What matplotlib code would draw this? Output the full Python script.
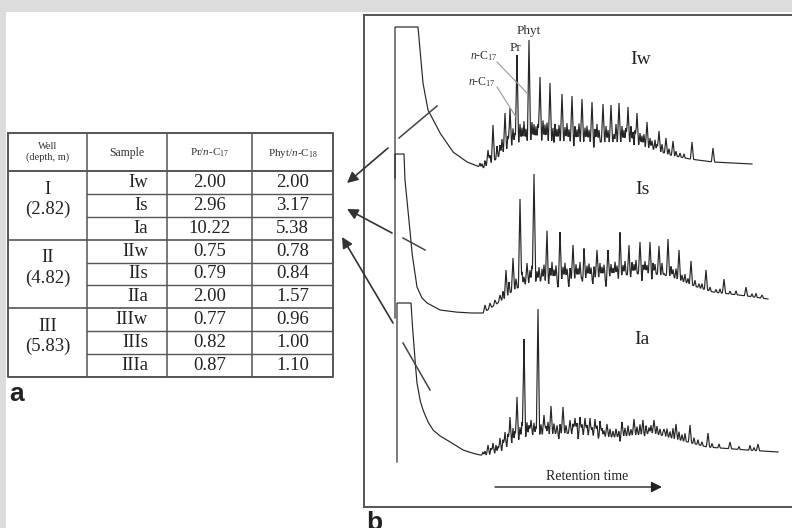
import numpy as np
import matplotlib
matplotlib.use("Agg")
import matplotlib.pyplot as plt
from matplotlib.patches import Rectangle

plt.rcParams['font.family'] = ['Liberation Serif', 'DejaVu Serif']
plt.rcParams['mathtext.fontset'] = 'custom'
plt.rcParams['mathtext.rm'] = 'Liberation Serif'
plt.rcParams['mathtext.it'] = 'Liberation Serif:italic'

# ---- table data (panel a) ----
wells = ['I\n(2.82)', 'II\n(4.82)', 'III\n(5.83)']
samples = ['Iw', 'Is', 'Ia', 'IIw', 'IIs', 'IIa', 'IIIw', 'IIIs', 'IIIa']
pr_c17 = ['2.00', '2.96', '10.22', '0.75', '0.79', '2.00', '0.77', '0.82', '0.87']
phyt_c18 = ['2.00', '3.17', '5.38', '0.78', '0.84', '1.57', '0.96', '1.00', '1.10']

# ---- chromatograms (panel b), retention time / detector response in arb. units ----
# solvent front: left edge, flat-top end, top, foot of the left edge
iw_front = (31, 54, 480, 329)
is_front = (31, 40, 353, 189)
ia_front = (33, 47, 204, 45)

# tail of the solvent peak + baseline (time, response)
iw_base = [(54, 480), (56, 457), (59, 424), (64, 397), (76, 374), (89, 355), (103, 345),
           (116, 340), (119, 339), (131, 347), (141, 357), (151, 364), (166, 367), (196, 366),
           (236, 365), (266, 365), (286, 359), (306, 352), (326, 348), (349, 345), (388, 343)]
is_base = [(40, 353), (41, 327), (45, 287), (48, 254), (53, 220), (58, 209), (63, 204),
           (76, 197), (91, 195), (106, 194), (119, 194), (131, 202), (141, 209), (149, 217),
           (166, 225), (196, 228), (236, 230), (283, 234), (306, 231), (333, 220), (349, 215),
           (383, 211), (404, 208)]
ia_base = [(47, 204), (48, 187), (51, 147), (53, 124), (56, 107), (59, 97), (64, 85), (69, 77),
           (76, 71), (83, 67), (91, 62), (99, 57), (108, 54), (116, 52), (123, 52), (136, 55),
           (149, 65), (166, 72), (199, 74), (249, 70), (289, 74), (316, 67), (343, 60),
           (383, 57), (414, 55)]

# resolved peaks: (time, response at apex)
iw_peaks = [(124, 357), (129, 382), (141, 394), (146, 399), (153, 452), (165, 467), (176, 430),
            (186, 424), (198, 413), (208, 411), (218, 408), (228, 405), (239, 403), (247, 402),
            (255, 404), (264, 400), (273, 394), (283, 385), (295, 376), (302, 369), (309, 366),
            (328, 365), (349, 359)]
is_peaks = [(121, 202), (126, 204), (131, 207), (136, 212), (142, 237), (149, 249), (156, 308),
            (163, 244), (170, 341), (183, 278), (196, 275), (209, 262), (220, 260), (233, 257),
            (244, 257), (256, 276), (265, 263), (276, 265), (286, 265), (295, 261), (304, 268),
            (315, 257), (327, 246), (342, 237), (360, 228), (382, 220), (398, 212)]
ia_peaks = [(124, 62), (129, 64), (136, 69), (141, 75), (146, 90), (153, 110), (160, 168),
            (167, 87), (174, 204), (180, 92), (187, 101), (199, 100), (206, 87), (211, 89),
            (216, 90), (221, 89), (226, 89), (231, 88), (236, 87), (243, 83), (258, 85),
            (270, 88), (279, 88), (290, 87), (300, 84), (312, 83), (326, 82), (344, 74),
            (366, 65), (394, 63)]

# unresolved small peaks: (time, height above baseline)
iw_minor = [(116, 4), (118, 4), (121, 6), (126, 8), (133, 12), (136, 10), (138, 14), (144, 12),
            (149, 16), (151, 10), (156, 18), (158, 14), (160, 20), (162, 12), (168, 18), (170, 22),
            (172, 14), (174, 16), (179, 20), (181, 16), (183, 18), (189, 14), (191, 18), (193, 12),
            (195, 16), (201, 14), (203, 18), (205, 12), (211, 16), (213, 12), (215, 18), (221, 14),
            (223, 16), (225, 12), (231, 14), (233, 18), (235, 12), (242, 16), (244, 12), (250, 14),
            (252, 18), (258, 16), (260, 12), (262, 14), (267, 16), (269, 12), (271, 14), (276, 12),
            (278, 10), (280, 12), (286, 10), (288, 8), (291, 10), (293, 6), (298, 8), (305, 6),
            (312, 5), (316, 4), (320, 4), (170, -6), (190, -7), (210, -6), (230, -7), (250, -6),
            (270, -6)]
is_minor = [(139, 8), (145, 12), (152, 10), (158, 14), (160, 8), (166, 12), (168, 16), (173, 10),
            (175, 14), (178, 12), (180, 16), (186, 12), (188, 18), (190, 10), (192, 14), (199, 12),
            (201, 16), (203, 10), (206, 12), (212, 14), (214, 10), (216, 16), (223, 12), (225, 14),
            (227, 10), (230, 12), (236, 14), (238, 10), (240, 12), (247, 12), (249, 8), (251, 14),
            (253, 10), (259, 10), (261, 14), (268, 12), (270, 10), (272, 14), (279, 10), (281, 12),
            (283, 8), (289, 12), (291, 10), (298, 12), (300, 8), (307, 10), (309, 8), (312, 10),
            (318, 6), (321, 8), (324, 5), (331, 6), (335, 4), (338, 5), (346, 4), (352, 3),
            (356, 4), (366, 3), (372, 4), (388, 3), (392, 4), (170, -8), (184, -10), (194, -8),
            (205, -10), (219, -9), (229, -8), (242, -10), (255, -8), (266, -7), (278, -9),
            (288, -7), (300, -6)]
ia_minor = [(119, 3), (121, 4), (127, 6), (132, 8), (134, 6), (139, 10), (144, 12), (149, 14),
            (151, 10), (156, 12), (158, 16), (163, 14), (165, 10), (170, 12), (172, 8), (177, 10),
            (182, 8), (184, 12), (190, 10), (193, 8), (196, 10), (202, 8), (209, 10), (213, 12),
            (218, 10), (223, 10), (228, 8), (233, 10), (238, 8), (240, 6), (246, 8), (249, 6),
            (252, 8), (255, 6), (261, 8), (264, 10), (267, 6), (273, 8), (276, 10), (282, 8),
            (285, 6), (287, 8), (293, 8), (296, 6), (303, 8), (306, 6), (309, 10), (315, 8),
            (318, 6), (321, 8), (330, 6), (334, 5), (338, 4), (348, 4), (355, 4), (375, 3),
            (386, 5), (390, 3), (174, -6), (195, -7), (214, -6), (235, -6), (256, -6), (280, -5),
            (300, -6)]

# axis-break marks across the solvent tails
iw_break = [(35, 369), (73, 401)]
is_break = [(39, 269), (61, 257)]
ia_break = [(39, 164), (66, 117)]

TRACE = '#262626'
GRID = '#555555'


def trace(front, base, peaks, minor):
    left, flat_end, top, foot = front
    bt, br = np.array(base, dtype=float).T
    t = np.arange(bt[0], bt[-1] + 0.25, 0.25)
    b = np.interp(t, bt, br)
    y = b.copy()
    for pt, pr in peaks:
        h = pr - np.interp(pt, bt, br)
        y += h * np.clip(1 - np.abs(t - pt) / 1.6, 0, None)
    for pt, h in minor:
        y += h * np.clip(1 - np.abs(t - pt) / 1.2, 0, None)
    xs = np.concatenate([[left, left, flat_end], t])
    ys = np.concatenate([[foot, top, top], y])
    return xs, ys


fig = plt.figure(figsize=(7.92, 5.28), dpi=100, facecolor='#dcdcdc')
fig.patches.append(Rectangle((6 / 792, 0), 1, 1 - 12 / 528, transform=fig.transFigure,
                             facecolor='white', edgecolor='none', zorder=-1))

# ---- panel a: table ----
ax_t = fig.add_axes([8 / 792, 1 - 377 / 528, 325 / 792, 244 / 528])
ax_t.set_xlim(0, 325)
ax_t.set_ylim(244, 0)
ax_t.axis('off')

col_edges = [0, 79, 159, 244, 325]
head_h = 38
row_h = (244 - head_h) / len(samples)

ax_t.plot([0, 325, 325, 0, 0], [0, 0, 244, 244, 0], color=GRID, lw=1.4, clip_on=False)
for x in col_edges[1:-1]:
    ax_t.plot([x, x], [0, 244], color=GRID, lw=1.1)
ax_t.plot([0, 325], [head_h, head_h], color=GRID, lw=1.4)
for i in range(1, len(samples)):
    y = head_h + i * row_h
    if i % 3 == 0:
        ax_t.plot([0, 325], [y, y], color=GRID, lw=1.2)
    else:
        ax_t.plot([79, 325], [y, y], color=GRID, lw=1.0)

ax_t.text(39.5, 19, 'Well\n(depth, m)', ha='center', va='center', fontsize=7.5,
          color='#333', linespacing=1.1)
ax_t.text(119, 20, 'Sample', ha='center', va='center', fontsize=8.5, color='#333')
ax_t.text(201.5, 20, r'Pr/$n$-C$_{17}$', ha='center', va='center', fontsize=8, color='#333')
ax_t.text(284.5, 20, r'Phyt/$n$-C$_{18}$', ha='center', va='center', fontsize=8, color='#333')

for i, s in enumerate(samples):
    yc = head_h + (i + 0.5) * row_h
    ax_t.text(140, yc, s, ha='right', va='center', fontsize=13.5, color='#222')
    ax_t.text(201.5, yc, pr_c17[i], ha='center', va='center', fontsize=13.5, color='#222')
    ax_t.text(284.5, yc, phyt_c18[i], ha='center', va='center', fontsize=13.5, color='#222')
for g, w in enumerate(wells):
    yc = head_h + (3 * g + 1.5) * row_h - 6
    ax_t.text(39.5, yc, w, ha='center', va='center', fontsize=13.5, color='#222',
              linespacing=1.25)

# ---- panel b: chromatograms ----
ax_b = fig.add_axes([364 / 792, 1 - 507 / 528, 436 / 792, 492 / 528])
ax_b.set_xlim(0, 436)
ax_b.set_ylim(0, 492)
ax_b.set_xticks([])
ax_b.set_yticks([])
ax_b.patch.set_alpha(0)
for side in ['left', 'top', 'bottom', 'right']:
    ax_b.spines[side].set_color(GRID)
    ax_b.spines[side].set_linewidth(1.4)

for front, base, peaks, minor, brk in [(iw_front, iw_base, iw_peaks, iw_minor, iw_break),
                                       (is_front, is_base, is_peaks, is_minor, is_break),
                                       (ia_front, ia_base, ia_peaks, ia_minor, ia_break)]:
    xs, ys = trace(front, base, peaks, minor)
    ax_b.plot(xs, ys, color=TRACE, lw=0.85, solid_joinstyle='miter')
    bx, by = zip(*brk)
    ax_b.plot(bx, by, color='#444', lw=1.1)

ax_b.text(277, 447, 'Iw', fontsize=14, ha='center', va='center', color='#222')
ax_b.text(278, 317, 'Is', fontsize=14, ha='center', va='center', color='#222')
ax_b.text(278, 167, 'Ia', fontsize=14, ha='center', va='center', color='#222')

# peak labels on Iw
ax_b.text(165, 476, 'Phyt', fontsize=9.5, ha='center', va='center', color='#333')
ax_b.text(151, 459, 'Pr', fontsize=9.5, ha='center', va='center', color='#333')
ax_b.text(134, 451, r'$n$-C$_{17}$', fontsize=8.5, ha='right', va='center', color='#333')
ax_b.text(132, 425, r'$n$-C$_{17}$', fontsize=8.5, ha='right', va='center', color='#333')
ax_b.plot([133, 163], [445, 414], color='#999', lw=0.8)
ax_b.plot([133, 152], [420, 390], color='#999', lw=0.8)

ax_b.text(223, 31, 'Retention time', fontsize=10, ha='center', va='center', color='#222')
ax_b.annotate('', xy=(298, 20), xytext=(131, 20),
              arrowprops=dict(arrowstyle='-|>', color='#222', lw=1.0, mutation_scale=16,
                              shrinkA=0, shrinkB=0))

# arrows linking each trace to its table row
for tail, head in [((24, 359), (339, 50)), ((28, 274), (339, 76)), ((29, 184), (334, 104))]:
    ax_b.annotate('', xy=head, xycoords=ax_t.transData, xytext=tail, textcoords='data',
                  arrowprops=dict(arrowstyle='-|>', color='#333', lw=1.2, mutation_scale=16,
                                  shrinkA=0, shrinkB=0), annotation_clip=False)

fig.text(9 / 792, 1 - 401 / 528, 'a', fontsize=19, fontweight='bold',
         family='Liberation Sans', color='#222', va='baseline')
fig.text(366 / 792, 1 - 530 / 528, 'b', fontsize=19, fontweight='bold',
         family='Liberation Sans', color='#222', va='baseline')

fig.savefig('out.png', dpi=100, facecolor=fig.get_facecolor())
